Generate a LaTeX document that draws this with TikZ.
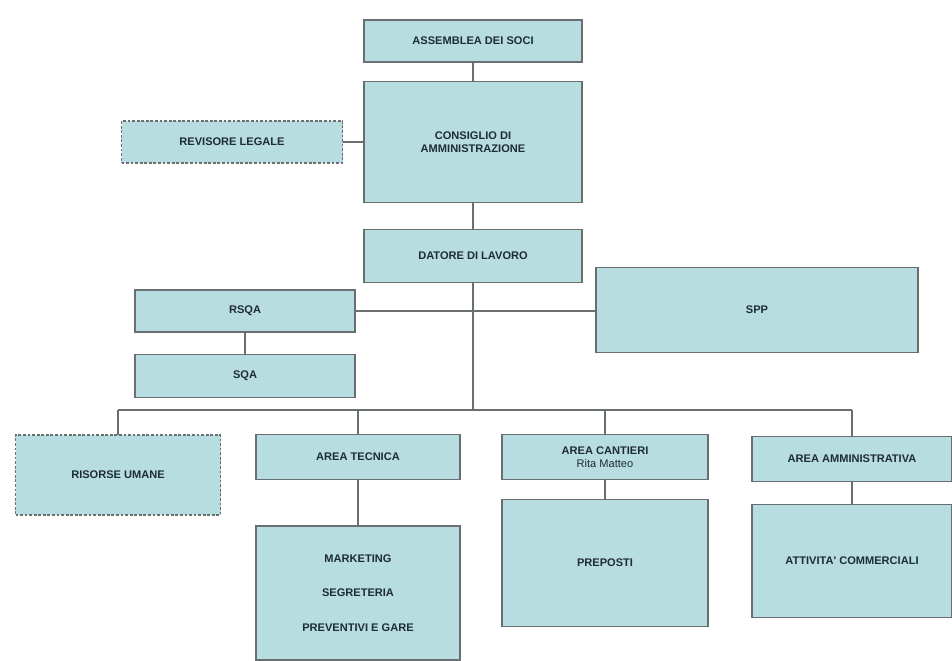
\documentclass[tikz,border=0pt]{standalone}
\usepackage{fontspec}
\newfontfamily\orgfont{Liberation Sans}
\usepackage{tikz}
\usetikzlibrary{calc}
\definecolor{boxfill}{RGB}{184,221,225}
\definecolor{boxline}{RGB}{105,110,112}
\definecolor{boxtext}{RGB}{30,45,52}
\tikzset{
  orgbox/.style={draw=boxline,line width=0.9pt,fill=boxfill,text=boxtext,
    font=\orgfont\bfseries\fontsize{6.3}{7.6}\selectfont,align=center,
    inner sep=0pt,outer sep=0pt},
  dashbox/.style={orgbox,dash pattern=on 1.6pt off 1pt},
  link/.style={draw=boxline,line width=0.8pt}
}

\begin{document}
\begin{tikzpicture}[x=0.02cm,y=-0.02cm]
            % \draw[step=50,color=gray!40] (0,0) grid (952,660);
            \useasboundingbox (0,0) rectangle (952,660);
            \foreach \x/\y/\w/\h/\name/\txt in {
                473/41/218/42/ass/{ASSEMBLEA DEI SOCI},
                473/142/218/121/cda/{CONSIGLIO DI\\AMMINISTRAZIONE},
                473/256/218/53/dat/{DATORE DI LAVORO},
                245/311/220/42/rsqa/{RSQA},
                245/376/220/43/sqa/{SQA},
                757/310/322/85/spp/{SPP},
                358/457/204/45/tec/{AREA TECNICA},
                358/593/204/134/mkt/{MARKETING\\[12pt]SEGRETERIA\\[12pt]PREVENTIVI E GARE},
                605/457/206/45/can/{AREA CANTIERI\\{\mdseries Rita Matteo}},
                605/563/206/127/pre/{PREPOSTI},
                852/459/200/45/amm/{AREA AMMINISTRATIVA},
                852/561/200/113/att/{ATTIVITA' COMMERCIALI}}{
                \node[orgbox,minimum width=\w*0.02cm,minimum height=\h*0.02cm,name=\name] at (\x,\y) {\txt};
            }
            \foreach \x/\y/\w/\h/\name/\txt in {
                232/142/221/42/rev/{REVISORE LEGALE},
                118/475/205/80/ru/{RISORSE UMANE}}{
                \node[dashbox,minimum width=\w*0.02cm,minimum height=\h*0.02cm,name=\name] at (\x,\y) {\txt};
            }
            \foreach \from/\to in {ass/cda,cda/dat,rev/cda,rsqa/sqa,tec/mkt,can/pre,amm/att} {
                \draw[link] (\from)--(\to) ;
            }
            \draw[link] (rsqa.east)--(rsqa.east -| spp.west);
            \coordinate (bus) at (473,410);
            \draw[link] (dat)--(bus);
            \draw[link] (bus -| ru.north)--(bus -| amm.north);
            \foreach \to in {ru,tec,can,amm} {
                \draw[link] (bus -| \to.north)--(\to.north) ;
            }
        \end{tikzpicture}
\end{document}
